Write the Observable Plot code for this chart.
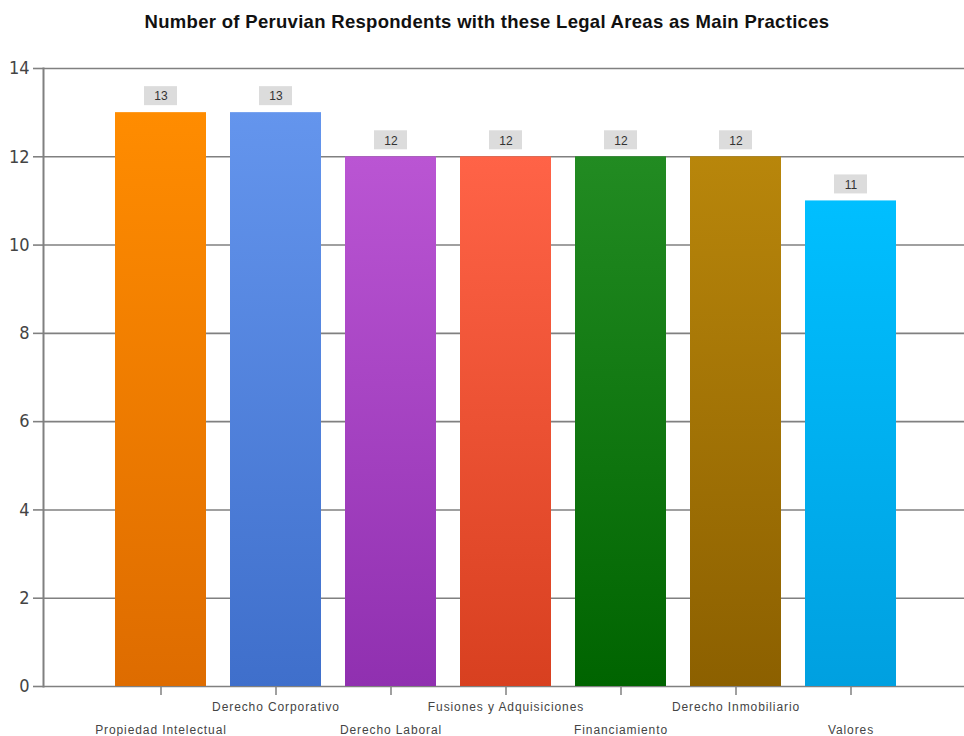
<!DOCTYPE html>
<html>
<head>
<meta charset="utf-8">
<script src="https://cdn.jsdelivr.net/npm/d3@7"></script>
<script src="https://cdn.jsdelivr.net/npm/@observablehq/plot@0.6"></script>
<style>
  body { margin: 0; background: #fff; font-family: "Liberation Sans", Arial, sans-serif; }
  #title { height: 40px; line-height: 43px; padding-left: 10px; text-align: center; font-weight: bold; font-size: 18.5px; letter-spacing: 0.3px; color: #111; }
  #chart svg { display: block; }
</style>
</head>
<body>
<div id="title">Number of Peruvian Respondents with these Legal Areas as Main Practices</div>
<div id="chart"></div>
<script>
const categories = ["Propiedad Intelectual", "Derecho Corporativo", "Derecho Laboral", "Fusiones y Adquisiciones", "Financiamiento", "Derecho Inmobiliario", "Valores"];
const values = [13, 13, 12, 12, 12, 12, 11];
const topColors = ["#ff8c00", "#6495ed", "#ba55d3", "#ff6347", "#228b22", "#b8860b", "#00bfff"];
const bottomColors = ["#de6c00", "#3f6fcb", "#9030b0", "#d84020", "#006400", "#8c6000", "#00a0e0"];
const yTicks = [0, 2, 4, 6, 8, 10, 12, 14];

const data = categories.map((c, i) => ({category: c, value: values[i], index: i}));

const gradients = () => {
  const ns = "http://www.w3.org/2000/svg";
  const defs = document.createElementNS(ns, "defs");
  topColors.forEach((top, i) => {
    const g = document.createElementNS(ns, "linearGradient");
    g.setAttribute("id", "grad" + i);
    g.setAttribute("x1", "0"); g.setAttribute("y1", "0");
    g.setAttribute("x2", "0"); g.setAttribute("y2", "1");
    [[0, top], [1, bottomColors[i]]].forEach(([o, c]) => {
      const s = document.createElementNS(ns, "stop");
      s.setAttribute("offset", o);
      s.setAttribute("stop-color", c);
      g.appendChild(s);
    });
    defs.appendChild(g);
  });
  return defs;
};

const chart = Plot.plot({
  width: 964,
  height: 696,
  marginTop: 28,
  marginBottom: 50,
  marginLeft: 43,
  marginRight: 0,
  style: {fontFamily: "'Liberation Sans', Arial, sans-serif", background: "#fff"},
  x: {domain: categories, range: [88, 924], padding: 0.207, axis: null},
  y: {domain: [0, 14], axis: null},
  color: {type: "identity"},
  marks: [
    gradients,
    Plot.gridY(yTicks, {stroke: "#808080", strokeOpacity: 1, strokeWidth: 1.6}),
    Plot.barY(data, {x: "category", y: "value", fill: d => `url(#grad${d.index})`}),
    Plot.barY(data, {x: "category", y1: "value", y2: "value", fill: "#dcdcdc", insetLeft: 29, insetRight: 29, insetTop: -26, insetBottom: 7}),
    Plot.text(data, {x: "category", y: "value", text: d => String(d.value), dy: -16, fontSize: 12, fill: "#333", lineAnchor: "middle"}),
    Plot.axisY({ticks: yTicks, label: null, tickSize: 10, tickPadding: 4, fontSize: 18, fontFamily: "'Liberation Sans Narrow', 'DejaVu Sans Condensed', sans-serif", stroke: "#808080", strokeWidth: 1.6, color: "#444", tickFormat: d => String(d)}),
    Plot.frame({anchor: "left", stroke: "#808080", strokeWidth: 2}),
    Plot.axisX({ticks: categories, label: null, tickSize: 9, tickFormat: () => "", stroke: "#808080", strokeWidth: 1.5}),
    Plot.text(data.filter(d => d.index % 2 === 1), {x: "category", frameAnchor: "bottom", text: "category", dy: 21, fontSize: 12, fill: "#444", lineAnchor: "middle"}),
    Plot.text(data.filter(d => d.index % 2 === 0), {x: "category", frameAnchor: "bottom", text: "category", dy: 44, fontSize: 12, fill: "#444", lineAnchor: "middle"})
  ]
});
d3.select(chart).selectAll("text")
  .filter(function() { return categories.includes(this.textContent); })
  .style("letter-spacing", "0.9px");
document.getElementById("chart").appendChild(chart);
</script>
</body>
</html>
